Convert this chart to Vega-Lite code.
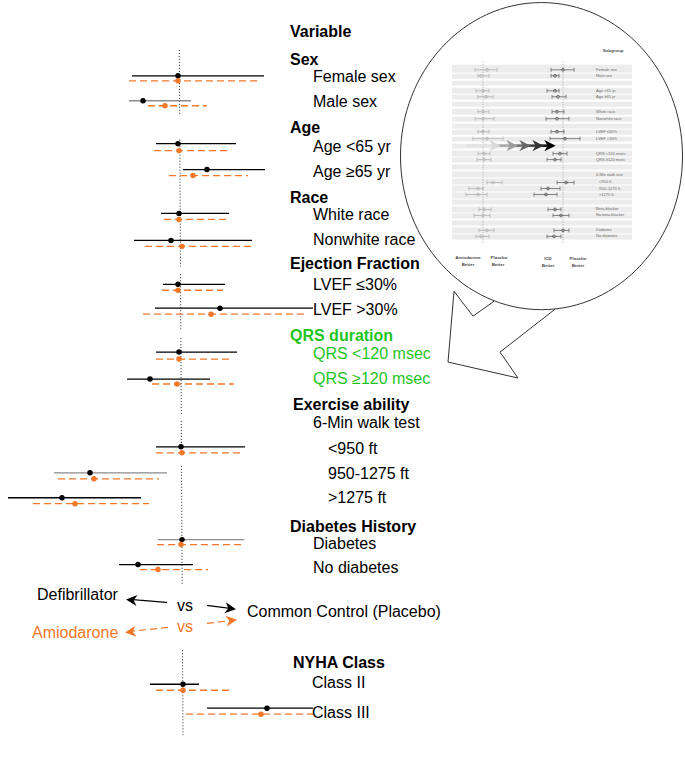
{
  "$schema": "https://vega.github.io/schema/vega-lite/v6.json",
  "width": 685,
  "height": 782,
  "padding": 0,
  "autosize": {"type": "fit", "contains": "padding"},
  "background": "#ffffff",
  "config": {"view": {"stroke": null}},
  "resolve": {"scale": {"color": "independent"}},
  "datasets": {
    "forest": [
      {"row": "Female sex", "arm": "ICD", "y": 74, "lo": 132, "est": 178, "hi": 264},
      {"row": "Female sex", "arm": "Amiodarone", "y": 79, "lo": 129, "est": 178, "hi": 257},
      {"row": "Male sex", "arm": "ICD", "y": 99, "lo": 129, "est": 143, "hi": 191},
      {"row": "Male sex", "arm": "Amiodarone", "y": 104, "lo": 148, "est": 165, "hi": 207},
      {"row": "Age <65 yr", "arm": "ICD", "y": 142, "lo": 156, "est": 178, "hi": 236},
      {"row": "Age <65 yr", "arm": "Amiodarone", "y": 149, "lo": 154, "est": 179, "hi": 228},
      {"row": "Age ≥65 yr", "arm": "ICD", "y": 168, "lo": 183, "est": 207, "hi": 265},
      {"row": "Age ≥65 yr", "arm": "Amiodarone", "y": 174, "lo": 169, "est": 193, "hi": 248},
      {"row": "White race", "arm": "ICD", "y": 212, "lo": 161, "est": 179, "hi": 229},
      {"row": "White race", "arm": "Amiodarone", "y": 218, "lo": 164, "est": 179, "hi": 227},
      {"row": "Nonwhite race", "arm": "ICD", "y": 239, "lo": 134, "est": 171, "hi": 252},
      {"row": "Nonwhite race", "arm": "Amiodarone", "y": 245, "lo": 145, "est": 182, "hi": 253},
      {"row": "LVEF ≤30%", "arm": "ICD", "y": 283, "lo": 163, "est": 178, "hi": 225},
      {"row": "LVEF ≤30%", "arm": "Amiodarone", "y": 289, "lo": 162, "est": 178, "hi": 223},
      {"row": "LVEF >30%", "arm": "ICD", "y": 307, "lo": 155, "est": 220, "hi": 313},
      {"row": "LVEF >30%", "arm": "Amiodarone", "y": 313, "lo": 143, "est": 211, "hi": 306},
      {"row": "QRS <120 msec", "arm": "ICD", "y": 351, "lo": 156, "est": 179, "hi": 237},
      {"row": "QRS <120 msec", "arm": "Amiodarone", "y": 358, "lo": 156, "est": 179, "hi": 230},
      {"row": "QRS ≥120 msec", "arm": "ICD", "y": 378, "lo": 127, "est": 150, "hi": 210},
      {"row": "QRS ≥120 msec", "arm": "Amiodarone", "y": 383, "lo": 152, "est": 177, "hi": 234},
      {"row": "<950 ft", "arm": "ICD", "y": 446, "lo": 156, "est": 181, "hi": 245},
      {"row": "<950 ft", "arm": "Amiodarone", "y": 452, "lo": 156, "est": 182, "hi": 240},
      {"row": "950-1275 ft", "arm": "ICD", "y": 472, "lo": 54, "est": 90, "hi": 167},
      {"row": "950-1275 ft", "arm": "Amiodarone", "y": 478, "lo": 58, "est": 94, "hi": 159},
      {"row": ">1275 ft", "arm": "ICD", "y": 497, "lo": 8, "est": 62, "hi": 141},
      {"row": ">1275 ft", "arm": "Amiodarone", "y": 503, "lo": 33, "est": 75, "hi": 149},
      {"row": "Diabetes", "arm": "ICD", "y": 539, "lo": 158, "est": 182, "hi": 244},
      {"row": "Diabetes", "arm": "Amiodarone", "y": 544, "lo": 157, "est": 181, "hi": 241},
      {"row": "No diabetes", "arm": "ICD", "y": 564, "lo": 119, "est": 138, "hi": 193},
      {"row": "No diabetes", "arm": "Amiodarone", "y": 569, "lo": 140, "est": 158, "hi": 208},
      {"row": "Class II", "arm": "ICD", "y": 684, "lo": 150, "est": 183, "hi": 199},
      {"row": "Class II", "arm": "Amiodarone", "y": 690, "lo": 156, "est": 183, "hi": 230},
      {"row": "Class III", "arm": "ICD", "y": 708, "lo": 207, "est": 267, "hi": 313},
      {"row": "Class III", "arm": "Amiodarone", "y": 714, "lo": 186, "est": 261, "hi": 313}
    ],
    "ref": [
      {"x": 179.3, "y": 48, "x2": 179.7, "y2": 114},
      {"x": 179.8, "y": 138, "x2": 180.5, "y2": 265},
      {"x": 180.5, "y": 273, "x2": 180.8, "y2": 328},
      {"x": 180.9, "y": 337, "x2": 181.3, "y2": 415},
      {"x": 181.3, "y": 420, "x2": 181.5, "y2": 455},
      {"x": 181.5, "y": 465, "x2": 182.2, "y2": 585},
      {"x": 182.5, "y": 650, "x2": 183.0, "y2": 735}
    ],
    "labels": [
      {"t": "Variable", "x": 290, "y": 30, "kind": "head"},
      {"t": "Sex", "x": 290, "y": 58, "kind": "head"},
      {"t": "Female sex", "x": 313, "y": 75, "kind": "item"},
      {"t": "Male sex", "x": 313, "y": 100, "kind": "item"},
      {"t": "Age", "x": 290, "y": 126, "kind": "head"},
      {"t": "Age <65 yr", "x": 313, "y": 145, "kind": "item"},
      {"t": "Age ≥65 yr", "x": 313, "y": 170, "kind": "item"},
      {"t": "Race", "x": 290, "y": 197, "kind": "head"},
      {"t": "White race", "x": 313, "y": 214, "kind": "item"},
      {"t": "Nonwhite race", "x": 313, "y": 239, "kind": "item"},
      {"t": "Ejection Fraction", "x": 290, "y": 263, "kind": "head"},
      {"t": "LVEF ≤30%", "x": 313, "y": 284, "kind": "item"},
      {"t": "LVEF >30%", "x": 313, "y": 309, "kind": "item"},
      {"t": "QRS duration", "x": 290, "y": 335, "kind": "qrshead"},
      {"t": "QRS <120 msec", "x": 313, "y": 353, "kind": "qrsitem"},
      {"t": "QRS ≥120 msec", "x": 313, "y": 378, "kind": "qrsitem"},
      {"t": "Exercise ability", "x": 293, "y": 404, "kind": "head"},
      {"t": "6-Min walk test", "x": 313, "y": 422, "kind": "item"},
      {"t": "<950 ft", "x": 328, "y": 448, "kind": "item"},
      {"t": "950-1275 ft", "x": 328, "y": 473, "kind": "item"},
      {"t": ">1275 ft", "x": 328, "y": 497, "kind": "item"},
      {"t": "Diabetes History", "x": 290, "y": 526, "kind": "head"},
      {"t": "Diabetes", "x": 313, "y": 543, "kind": "item"},
      {"t": "No diabetes", "x": 313, "y": 567, "kind": "item"},
      {"t": "Defibrillator", "x": 37, "y": 595, "kind": "item"},
      {"t": "vs", "x": 177, "y": 606, "kind": "item"},
      {"t": "Common Control (Placebo)", "x": 247, "y": 612, "kind": "item"},
      {"t": "Amiodarone", "x": 32, "y": 633, "kind": "amio"},
      {"t": "vs", "x": 177, "y": 627, "kind": "amio"},
      {"t": "NYHA Class", "x": 293, "y": 663, "kind": "head"},
      {"t": "Class II", "x": 312, "y": 683, "kind": "item"},
      {"t": "Class III", "x": 312, "y": 713, "kind": "item"},
      {"t": "Female sex", "x": 596, "y": 68, "kind": "mini"},
      {"t": "Male sex", "x": 596, "y": 74, "kind": "mini"},
      {"t": "Age <65 yr", "x": 596, "y": 89, "kind": "mini"},
      {"t": "Age ≥65 yr", "x": 596, "y": 95, "kind": "mini"},
      {"t": "White race", "x": 596, "y": 110, "kind": "mini"},
      {"t": "Nonwhite race", "x": 596, "y": 117, "kind": "mini"},
      {"t": "LVEF ≤30%", "x": 596, "y": 130, "kind": "mini"},
      {"t": "LVEF >30%", "x": 596, "y": 137, "kind": "mini"},
      {"t": "QRS <120 msec", "x": 596, "y": 152, "kind": "mini"},
      {"t": "QRS ≥120 msec", "x": 596, "y": 158, "kind": "mini"},
      {"t": "6-Min walk test", "x": 596, "y": 173, "kind": "mini"},
      {"t": "<950 ft", "x": 599, "y": 180, "kind": "mini"},
      {"t": "950–1275 ft", "x": 599, "y": 187, "kind": "mini"},
      {"t": ">1275 ft", "x": 599, "y": 193, "kind": "mini"},
      {"t": "Beta-blocker", "x": 596, "y": 208, "kind": "mini"},
      {"t": "No beta-blocker", "x": 596, "y": 214, "kind": "mini"},
      {"t": "Diabetes", "x": 596, "y": 229, "kind": "mini"},
      {"t": "No diabetes", "x": 596, "y": 235, "kind": "mini"},
      {"t": "Subgroup", "x": 613, "y": 49, "kind": "minifoot"},
      {"t": "Amiodarone", "x": 468, "y": 257, "kind": "minifoot"},
      {"t": "Better", "x": 468, "y": 264, "kind": "minifoot"},
      {"t": "Placebo", "x": 499, "y": 257, "kind": "minifoot"},
      {"t": "Better", "x": 498, "y": 264, "kind": "minifoot"},
      {"t": "ICD", "x": 548, "y": 258, "kind": "minifoot"},
      {"t": "Better", "x": 548, "y": 265, "kind": "minifoot"},
      {"t": "Placebo", "x": 578, "y": 258, "kind": "minifoot"},
      {"t": "Better", "x": 578, "y": 265, "kind": "minifoot"}
    ],
    "mini": [
      {"row": "Female sex", "side": "L", "y": 68, "lo": 475, "est": 487, "hi": 497},
      {"row": "Female sex", "side": "R", "y": 68, "lo": 551, "est": 563, "hi": 574},
      {"row": "Male sex", "side": "L", "y": 74, "lo": 478, "est": 481, "hi": 489},
      {"row": "Male sex", "side": "R", "y": 74, "lo": 551, "est": 555, "hi": 559},
      {"row": "Age <65 yr", "side": "L", "y": 89, "lo": 476, "est": 483, "hi": 489},
      {"row": "Age <65 yr", "side": "R", "y": 89, "lo": 547, "est": 555, "hi": 559},
      {"row": "Age ≥65 yr", "side": "L", "y": 95, "lo": 478, "est": 486, "hi": 493},
      {"row": "Age ≥65 yr", "side": "R", "y": 95, "lo": 552, "est": 558, "hi": 566},
      {"row": "White race", "side": "L", "y": 110, "lo": 478, "est": 483, "hi": 489},
      {"row": "White race", "side": "R", "y": 110, "lo": 552, "est": 557, "hi": 564},
      {"row": "Nonwhite race", "side": "L", "y": 117, "lo": 475, "est": 483, "hi": 494},
      {"row": "Nonwhite race", "side": "R", "y": 117, "lo": 546, "est": 557, "hi": 569},
      {"row": "LVEF ≤30%", "side": "L", "y": 130, "lo": 478, "est": 483, "hi": 489},
      {"row": "LVEF ≤30%", "side": "R", "y": 130, "lo": 551, "est": 557, "hi": 564},
      {"row": "LVEF >30%", "side": "L", "y": 137, "lo": 473, "est": 487, "hi": 503},
      {"row": "LVEF >30%", "side": "R", "y": 137, "lo": 550, "est": 565, "hi": 580},
      {"row": "QRS <120 msec", "side": "L", "y": 152, "lo": 478, "est": 484, "hi": 490},
      {"row": "QRS <120 msec", "side": "R", "y": 152, "lo": 553, "est": 560, "hi": 567},
      {"row": "QRS ≥120 msec", "side": "L", "y": 158, "lo": 477, "est": 484, "hi": 491},
      {"row": "QRS ≥120 msec", "side": "R", "y": 158, "lo": 547, "est": 555, "hi": 561},
      {"row": "<950 ft", "side": "L", "y": 181, "lo": 487, "est": 493, "hi": 502},
      {"row": "<950 ft", "side": "R", "y": 181, "lo": 557, "est": 566, "hi": 574},
      {"row": "950–1275 ft", "side": "L", "y": 187, "lo": 469, "est": 478, "hi": 483},
      {"row": "950–1275 ft", "side": "R", "y": 187, "lo": 541, "est": 548, "hi": 560},
      {"row": ">1275 ft", "side": "L", "y": 193, "lo": 466, "est": 478, "hi": 487},
      {"row": ">1275 ft", "side": "R", "y": 193, "lo": 534, "est": 546, "hi": 557},
      {"row": "Beta-blocker", "side": "L", "y": 208, "lo": 479, "est": 484, "hi": 491},
      {"row": "Beta-blocker", "side": "R", "y": 208, "lo": 548, "est": 555, "hi": 561},
      {"row": "No beta-blocker", "side": "L", "y": 214, "lo": 474, "est": 483, "hi": 490},
      {"row": "No beta-blocker", "side": "R", "y": 214, "lo": 553, "est": 561, "hi": 569},
      {"row": "Diabetes", "side": "L", "y": 229, "lo": 479, "est": 487, "hi": 494},
      {"row": "Diabetes", "side": "R", "y": 229, "lo": 554, "est": 563, "hi": 569},
      {"row": "No diabetes", "side": "L", "y": 235, "lo": 476, "est": 481, "hi": 489},
      {"row": "No diabetes", "side": "R", "y": 235, "lo": 547, "est": 554, "hi": 561}
    ],
    "bands": [
      {"x": 452, "x2": 632, "y": 63, "y2": 71}, {"x": 452, "x2": 632, "y": 72, "y2": 77},
      {"x": 452, "x2": 632, "y": 79, "y2": 84}, {"x": 452, "x2": 632, "y": 86, "y2": 92},
      {"x": 452, "x2": 632, "y": 93, "y2": 98}, {"x": 452, "x2": 632, "y": 100, "y2": 105},
      {"x": 452, "x2": 632, "y": 107, "y2": 113}, {"x": 452, "x2": 632, "y": 115, "y2": 120},
      {"x": 452, "x2": 632, "y": 122, "y2": 127}, {"x": 452, "x2": 632, "y": 128, "y2": 133},
      {"x": 452, "x2": 632, "y": 135, "y2": 140}, {"x": 452, "x2": 632, "y": 142, "y2": 147},
      {"x": 452, "x2": 632, "y": 149, "y2": 155}, {"x": 452, "x2": 632, "y": 156, "y2": 161},
      {"x": 452, "x2": 632, "y": 163, "y2": 168}, {"x": 452, "x2": 632, "y": 170, "y2": 176},
      {"x": 452, "x2": 632, "y": 177, "y2": 183}, {"x": 452, "x2": 632, "y": 184, "y2": 190},
      {"x": 452, "x2": 632, "y": 191, "y2": 197}, {"x": 452, "x2": 632, "y": 198, "y2": 203},
      {"x": 452, "x2": 632, "y": 205, "y2": 211}, {"x": 452, "x2": 632, "y": 212, "y2": 217},
      {"x": 452, "x2": 632, "y": 219, "y2": 224}, {"x": 452, "x2": 632, "y": 226, "y2": 232},
      {"x": 452, "x2": 632, "y": 233, "y2": 238}
    ],
    "miniRef": [
      {"x": 483, "y": 60, "x2": 483, "y2": 242},
      {"x": 563, "y": 60, "x2": 563, "y2": 242}
    ],
    "miniShaft": [
      {"x": 466, "x2": 495, "y": 144, "y2": 144, "step": 0},
      {"x": 495, "x2": 512, "y": 144, "y2": 144, "step": 1},
      {"x": 512, "x2": 525, "y": 144, "y2": 144, "step": 2},
      {"x": 525, "x2": 538, "y": 144, "y2": 144, "step": 3},
      {"x": 538, "x2": 550, "y": 144, "y2": 144, "step": 4}
    ],
    "miniHeads": [
      {"x": 495, "y": 144, "step": 0},
      {"x": 512, "y": 144, "step": 1},
      {"x": 525, "y": 144, "step": 2},
      {"x": 538, "y": 144, "step": 3},
      {"x": 550, "y": 144, "step": 4}
    ],
    "tail": [
      {"o": 1, "x": 494, "y": 300},
      {"o": 2, "x": 473, "y": 315},
      {"o": 3, "x": 454, "y": 290},
      {"o": 4, "x": 448, "y": 361},
      {"o": 5, "x": 518, "y": 377},
      {"o": 6, "x": 500, "y": 351},
      {"o": 7, "x": 555, "y": 308}
    ],
    "shafts": [
      {"arm": "ICD", "x": 167, "y": 602, "x2": 131, "y2": 599},
      {"arm": "ICD", "x": 207, "y": 605, "x2": 231, "y2": 608},
      {"arm": "Amiodarone", "x": 168, "y": 627, "x2": 131, "y2": 631},
      {"arm": "Amiodarone", "x": 207, "y": 623, "x2": 232, "y2": 620}
    ],
    "heads": [
      {"arm": "ICD", "x": 131.5, "y": 599.5, "ang": 185.6},
      {"arm": "ICD", "x": 230.5, "y": 608, "ang": 8},
      {"arm": "Amiodarone", "x": 130.5, "y": 631.5, "ang": 173.4},
      {"arm": "Amiodarone", "x": 231.5, "y": 620, "ang": 352.4}
    ]
  },
  "layer": [
    {
      "data": {"name": "bands"},
      "mark": {"type": "rect", "color": "#ececec"},
      "encoding": {
        "x": {"field": "x", "type": "quantitative", "scale": {"domain": [0, 685], "nice": false, "zero": false}, "axis": null},
        "x2": {"field": "x2"},
        "y": {"field": "y", "type": "quantitative", "scale": {"domain": [0, 782], "nice": false, "zero": false, "reverse": true}, "axis": null},
        "y2": {"field": "y2"}
      }
    },
    {
      "data": {"name": "miniRef"},
      "mark": {"type": "rule", "color": "#9a9a9a", "strokeWidth": 0.8, "strokeDash": [1, 1.5]},
      "encoding": {
        "x": {"field": "x", "type": "quantitative", "scale": {"domain": [0, 685], "nice": false, "zero": false}, "axis": null},
        "x2": {"field": "x2"},
        "y": {"field": "y", "type": "quantitative", "scale": {"domain": [0, 782], "nice": false, "zero": false, "reverse": true}, "axis": null},
        "y2": {"field": "y2"}
      }
    },
    {
      "data": {"name": "mini"},
      "mark": {"type": "rule", "strokeWidth": 0.8},
      "encoding": {
        "x": {"field": "lo", "type": "quantitative", "scale": {"domain": [0, 685], "nice": false, "zero": false}, "axis": null},
        "x2": {"field": "hi"},
        "y": {"field": "y", "type": "quantitative", "scale": {"domain": [0, 782], "nice": false, "zero": false, "reverse": true}, "axis": null},
        "color": {"condition": {"test": "datum.side === 'L'", "value": "#b4b4b4"}, "value": "#6a6a6a"}
      }
    },
    {
      "data": {"name": "mini"},
      "transform": [{"fold": ["lo", "hi"], "as": ["end", "xv"]}],
      "mark": {"type": "point", "shape": "M 0 -1 L 0 1", "size": 16, "filled": false, "strokeWidth": 0.8, "opacity": 1},
      "encoding": {
        "x": {"field": "xv", "type": "quantitative", "scale": {"domain": [0, 685], "nice": false, "zero": false}, "axis": null},
        "y": {"field": "y", "type": "quantitative", "scale": {"domain": [0, 782], "nice": false, "zero": false, "reverse": true}, "axis": null},
        "color": {"condition": {"test": "datum.side === 'L'", "value": "#b4b4b4"}, "value": "#6a6a6a"}
      }
    },
    {
      "data": {"name": "mini"},
      "mark": {"type": "point", "shape": "circle", "size": 8, "filled": false, "strokeWidth": 0.8, "opacity": 1},
      "encoding": {
        "x": {"field": "est", "type": "quantitative", "scale": {"domain": [0, 685], "nice": false, "zero": false}, "axis": null},
        "y": {"field": "y", "type": "quantitative", "scale": {"domain": [0, 782], "nice": false, "zero": false, "reverse": true}, "axis": null},
        "color": {"condition": {"test": "datum.side === 'L'", "value": "#b4b4b4"}, "value": "#555555"}
      }
    },
    {
      "data": {"name": "labels"},
      "transform": [{"filter": "datum.kind === 'mini'"}],
      "mark": {"type": "text", "align": "left", "baseline": "middle", "font": "Liberation Sans", "fontSize": 4, "color": "#6a6a6a"},
      "encoding": {
        "x": {"field": "x", "type": "quantitative", "scale": {"domain": [0, 685], "nice": false, "zero": false}, "axis": null},
        "y": {"field": "y", "type": "quantitative", "scale": {"domain": [0, 782], "nice": false, "zero": false, "reverse": true}, "axis": null},
        "text": {"field": "t"}
      }
    },
    {
      "data": {"name": "labels"},
      "transform": [{"filter": "datum.kind === 'minifoot'"}],
      "mark": {"type": "text", "align": "center", "baseline": "middle", "font": "Liberation Sans", "fontSize": 4.4, "fontWeight": "bold", "color": "#4a4a4a"},
      "encoding": {
        "x": {"field": "x", "type": "quantitative", "scale": {"domain": [0, 685], "nice": false, "zero": false}, "axis": null},
        "y": {"field": "y", "type": "quantitative", "scale": {"domain": [0, 782], "nice": false, "zero": false, "reverse": true}, "axis": null},
        "text": {"field": "t"}
      }
    },
    {
      "data": {"name": "miniShaft"},
      "mark": {"type": "rule", "strokeWidth": 2.5},
      "encoding": {
        "x": {"field": "x", "type": "quantitative", "scale": {"domain": [0, 685], "nice": false, "zero": false}, "axis": null},
        "x2": {"field": "x2"},
        "y": {"field": "y", "type": "quantitative", "scale": {"domain": [0, 782], "nice": false, "zero": false, "reverse": true}, "axis": null},
        "y2": {"field": "y2"},
        "color": {"field": "step", "type": "quantitative", "scale": {"domain": [0, 4], "range": ["#e2e2e2", "#111111"]}, "legend": null}
      }
    },
    {
      "data": {"name": "miniHeads"},
      "mark": {"type": "point", "shape": "M -1 -1 L 1 0 L -1 1 L -0.4 0 Z", "size": 130, "filled": true, "opacity": 1},
      "encoding": {
        "x": {"field": "x", "type": "quantitative", "scale": {"domain": [0, 685], "nice": false, "zero": false}, "axis": null},
        "y": {"field": "y", "type": "quantitative", "scale": {"domain": [0, 782], "nice": false, "zero": false, "reverse": true}, "axis": null},
        "color": {"field": "step", "type": "quantitative", "scale": {"domain": [0, 4], "range": ["#d8d8d8", "#000000"]}, "legend": null}
      }
    },
    {
      "data": {"values": [{"x": 541.5, "y": 154.5}]},
      "mark": {"type": "point", "shape": "M 0 -1.089 C 0.5523 -1.089 1 -0.6014 1 0 C 1 0.6014 0.5523 1.089 0 1.089 C -0.5523 1.089 -1 0.6014 -1 0 C -1 -0.6014 -0.5523 -1.089 0 -1.089 Z", "size": 79524, "filled": false, "stroke": "#333333", "strokeWidth": 1, "opacity": 1},
      "encoding": {
        "x": {"field": "x", "type": "quantitative", "scale": {"domain": [0, 685], "nice": false, "zero": false}, "axis": null},
        "y": {"field": "y", "type": "quantitative", "scale": {"domain": [0, 782], "nice": false, "zero": false, "reverse": true}, "axis": null}
      }
    },
    {
      "data": {"name": "tail"},
      "mark": {"type": "line", "color": "#333333", "strokeWidth": 1},
      "encoding": {
        "x": {"field": "x", "type": "quantitative", "scale": {"domain": [0, 685], "nice": false, "zero": false}, "axis": null},
        "y": {"field": "y", "type": "quantitative", "scale": {"domain": [0, 782], "nice": false, "zero": false, "reverse": true}, "axis": null},
        "order": {"field": "o", "type": "quantitative"}
      }
    },
    {
      "data": {"name": "ref"},
      "mark": {"type": "rule", "color": "#222222", "strokeWidth": 1, "strokeDash": [1, 2]},
      "encoding": {
        "x": {"field": "x", "type": "quantitative", "scale": {"domain": [0, 685], "nice": false, "zero": false}, "axis": null},
        "x2": {"field": "x2"},
        "y": {"field": "y", "type": "quantitative", "scale": {"domain": [0, 782], "nice": false, "zero": false, "reverse": true}, "axis": null},
        "y2": {"field": "y2"}
      }
    },
    {
      "data": {"name": "forest"},
      "mark": {"type": "rule", "strokeWidth": 1.3},
      "encoding": {
        "x": {"field": "lo", "type": "quantitative", "scale": {"domain": [0, 685], "nice": false, "zero": false}, "axis": null},
        "x2": {"field": "hi"},
        "y": {"field": "y", "type": "quantitative", "scale": {"domain": [0, 782], "nice": false, "zero": false, "reverse": true}, "axis": null},
        "color": {
          "condition": {"test": "datum.arm === 'ICD' && indexof(['Male sex', '950-1275 ft', 'Diabetes'], datum.row) >= 0", "value": "#8c8c8c"},
          "field": "arm", "type": "nominal",
          "scale": {"domain": ["ICD", "Amiodarone"], "range": ["#000000", "#f07828"]},
          "legend": null
        },
        "strokeDash": {"field": "arm", "type": "nominal", "scale": {"domain": ["ICD", "Amiodarone"], "range": [[1, 0], [7, 4]]}, "legend": null}
      }
    },
    {
      "data": {"name": "forest"},
      "mark": {"type": "circle", "size": 30, "opacity": 1},
      "encoding": {
        "x": {"field": "est", "type": "quantitative", "scale": {"domain": [0, 685], "nice": false, "zero": false}, "axis": null},
        "y": {"field": "y", "type": "quantitative", "scale": {"domain": [0, 782], "nice": false, "zero": false, "reverse": true}, "axis": null},
        "color": {"field": "arm", "type": "nominal", "scale": {"domain": ["ICD", "Amiodarone"], "range": ["#000000", "#f07828"]}, "legend": null}
      }
    },
    {
      "data": {"name": "shafts"},
      "mark": {"type": "rule", "strokeWidth": 1.2},
      "encoding": {
        "x": {"field": "x", "type": "quantitative", "scale": {"domain": [0, 685], "nice": false, "zero": false}, "axis": null},
        "x2": {"field": "x2"},
        "y": {"field": "y", "type": "quantitative", "scale": {"domain": [0, 782], "nice": false, "zero": false, "reverse": true}, "axis": null},
        "y2": {"field": "y2"},
        "color": {"field": "arm", "type": "nominal", "scale": {"domain": ["ICD", "Amiodarone"], "range": ["#000000", "#f07828"]}, "legend": null},
        "strokeDash": {"field": "arm", "type": "nominal", "scale": {"domain": ["ICD", "Amiodarone"], "range": [[1, 0], [7, 4]]}, "legend": null}
      }
    },
    {
      "data": {"name": "heads"},
      "mark": {"type": "point", "shape": "M -1 -1 L 1 0 L -1 1 L -0.4 0 Z", "size": 121, "filled": true, "opacity": 1},
      "encoding": {
        "x": {"field": "x", "type": "quantitative", "scale": {"domain": [0, 685], "nice": false, "zero": false}, "axis": null},
        "y": {"field": "y", "type": "quantitative", "scale": {"domain": [0, 782], "nice": false, "zero": false, "reverse": true}, "axis": null},
        "angle": {"field": "ang", "type": "quantitative", "scale": null},
        "color": {"field": "arm", "type": "nominal", "scale": {"domain": ["ICD", "Amiodarone"], "range": ["#000000", "#f07828"]}, "legend": null}
      }
    },
    {
      "data": {"name": "labels"},
      "transform": [{"filter": "datum.kind === 'head'"}],
      "mark": {"type": "text", "align": "left", "baseline": "middle", "font": "Liberation Sans", "fontSize": 16, "fontWeight": "bold", "color": "#000000"},
      "encoding": {
        "x": {"field": "x", "type": "quantitative", "scale": {"domain": [0, 685], "nice": false, "zero": false}, "axis": null},
        "y": {"field": "y", "type": "quantitative", "scale": {"domain": [0, 782], "nice": false, "zero": false, "reverse": true}, "axis": null},
        "text": {"field": "t"}
      }
    },
    {
      "data": {"name": "labels"},
      "transform": [{"filter": "datum.kind === 'item'"}],
      "mark": {"type": "text", "align": "left", "baseline": "middle", "font": "Liberation Sans", "fontSize": 16, "color": "#000000"},
      "encoding": {
        "x": {"field": "x", "type": "quantitative", "scale": {"domain": [0, 685], "nice": false, "zero": false}, "axis": null},
        "y": {"field": "y", "type": "quantitative", "scale": {"domain": [0, 782], "nice": false, "zero": false, "reverse": true}, "axis": null},
        "text": {"field": "t"}
      }
    },
    {
      "data": {"name": "labels"},
      "transform": [{"filter": "datum.kind === 'qrshead'"}],
      "mark": {"type": "text", "align": "left", "baseline": "middle", "font": "Liberation Sans", "fontSize": 16, "fontWeight": "bold", "color": "#1fc41f"},
      "encoding": {
        "x": {"field": "x", "type": "quantitative", "scale": {"domain": [0, 685], "nice": false, "zero": false}, "axis": null},
        "y": {"field": "y", "type": "quantitative", "scale": {"domain": [0, 782], "nice": false, "zero": false, "reverse": true}, "axis": null},
        "text": {"field": "t"}
      }
    },
    {
      "data": {"name": "labels"},
      "transform": [{"filter": "datum.kind === 'qrsitem'"}],
      "mark": {"type": "text", "align": "left", "baseline": "middle", "font": "Liberation Sans", "fontSize": 16, "color": "#1fc41f"},
      "encoding": {
        "x": {"field": "x", "type": "quantitative", "scale": {"domain": [0, 685], "nice": false, "zero": false}, "axis": null},
        "y": {"field": "y", "type": "quantitative", "scale": {"domain": [0, 782], "nice": false, "zero": false, "reverse": true}, "axis": null},
        "text": {"field": "t"}
      }
    },
    {
      "data": {"name": "labels"},
      "transform": [{"filter": "datum.kind === 'amio'"}],
      "mark": {"type": "text", "align": "left", "baseline": "middle", "font": "Liberation Sans", "fontSize": 16, "color": "#f07828"},
      "encoding": {
        "x": {"field": "x", "type": "quantitative", "scale": {"domain": [0, 685], "nice": false, "zero": false}, "axis": null},
        "y": {"field": "y", "type": "quantitative", "scale": {"domain": [0, 782], "nice": false, "zero": false, "reverse": true}, "axis": null},
        "text": {"field": "t"}
      }
    }
  ]
}
